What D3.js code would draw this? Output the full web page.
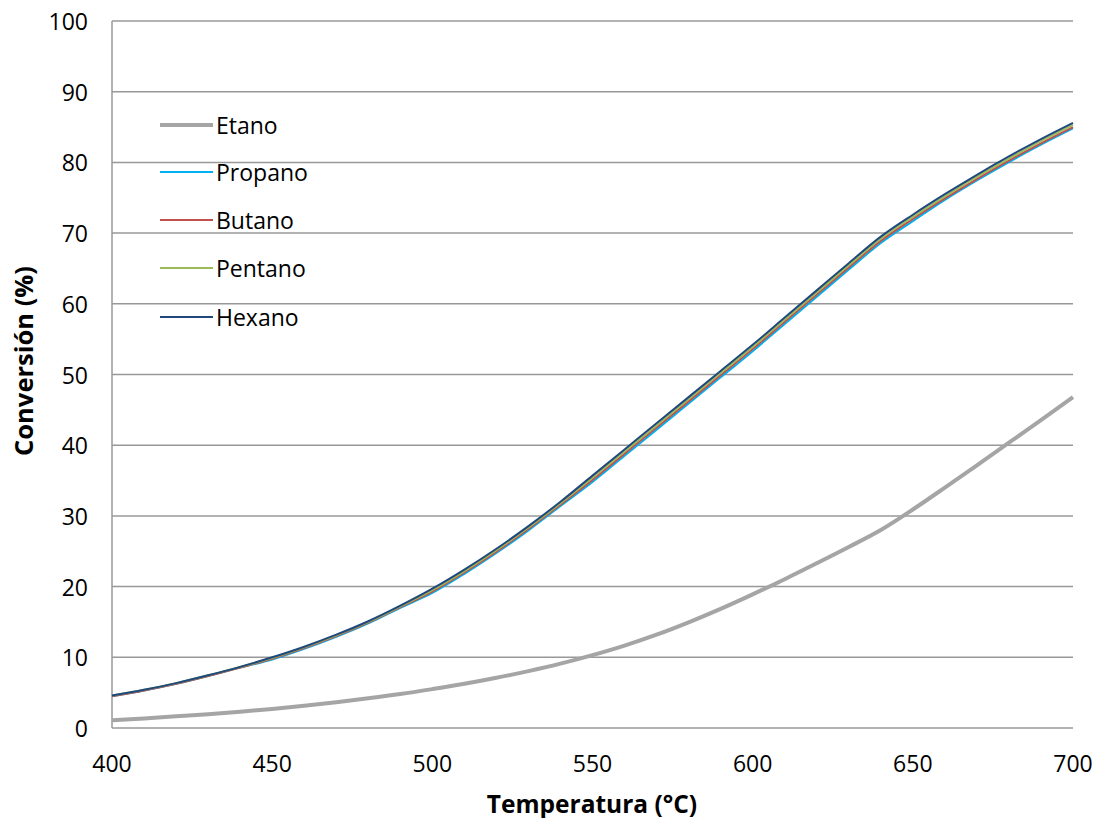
<!DOCTYPE html>
<html>
<head>
<meta charset="utf-8">
<script src="https://cdn.jsdelivr.net/npm/d3@7/dist/d3.min.js"></script>
<style>
  html, body { margin: 0; padding: 0; background: #fff; }
  svg { display: block; }
  text { font-family: "Open Sans", "Liberation Sans", sans-serif; fill: #000; }
</style>
</head>
<body>
<svg id="chart" width="1096" height="818"></svg>
<script>
// Temperature (°C) at which conversion was evaluated
const temperatures = [400, 410, 420, 430, 440, 450, 460, 470, 480, 490, 500,
  510, 520, 530, 540, 550, 560, 570, 580, 590, 600,
  610, 620, 630, 640, 650, 660, 670, 680, 690, 700];

// Conversion (%) for each alkane
const etano = [1.1, 1.35, 1.65, 1.95, 2.3, 2.7, 3.15, 3.65, 4.2, 4.8, 5.5,
  6.25, 7.1, 8.05, 9.1, 10.3, 11.65, 13.2, 14.95, 16.85, 18.9,
  21.05, 23.3, 25.6, 28.0, 30.9, 34.0, 37.15, 40.35, 43.55, 46.8];
const propano = [4.5, 5.3, 6.25, 7.35, 8.55, 9.7, 11.2, 12.9, 14.8, 17.0, 19.1,
  21.8, 24.75, 27.95, 31.4, 34.8, 38.5, 42.2, 45.9, 49.6, 53.3,
  57.15, 61.0, 64.85, 68.6, 71.7, 74.7, 77.45, 80.05, 82.5, 84.8];
const butano = [4.5, 5.3, 6.25, 7.35, 8.55, 9.8, 11.3, 13.0, 14.9, 17.1, 19.3,
  22.0, 24.95, 28.15, 31.6, 35.1, 38.8, 42.5, 46.2, 49.9, 53.6,
  57.45, 61.3, 65.15, 68.9, 72.0, 74.9, 77.65, 80.25, 82.7, 85.0];
const pentano = [4.6, 5.4, 6.35, 7.45, 8.65, 9.9, 11.4, 13.1, 15.0, 17.2, 19.5,
  22.2, 25.15, 28.35, 31.8, 35.4, 39.1, 42.8, 46.5, 50.2, 53.9,
  57.75, 61.6, 65.45, 69.2, 72.3, 75.2, 77.95, 80.55, 83.0, 85.3];
const hexano = [4.6, 5.4, 6.35, 7.45, 8.65, 10.0, 11.5, 13.2, 15.1, 17.3, 19.7,
  22.4, 25.35, 28.55, 32.0, 35.7, 39.4, 43.1, 46.8, 50.5, 54.2,
  58.05, 61.9, 65.75, 69.5, 72.6, 75.5, 78.25, 80.85, 83.3, 85.6];

const seriesNames = ["Etano", "Propano", "Butano", "Pentano", "Hexano"];
const seriesValues = [etano, propano, butano, pentano, hexano];
const seriesColors = ["#a5a5a5", "#00b0f0", "#c0504d", "#9bbb59", "#1f497d"];
const seriesWidths = [4, 2, 2, 2, 2];

const xTicks = [400, 450, 500, 550, 600, 650, 700];
const yTicks = [0, 10, 20, 30, 40, 50, 60, 70, 80, 90, 100];

const svg = d3.select("#chart");
const plotLeft = 112, plotRight = 1073, plotTop = 21, plotBottom = 728;

const x = d3.scaleLinear().domain([400, 700]).range([plotLeft, plotRight]);
const y = d3.scaleLinear().domain([0, 100]).range([plotBottom, plotTop]);

// horizontal gridlines
svg.append("g")
  .selectAll("line")
  .data(yTicks)
  .join("line")
  .attr("x1", plotLeft).attr("x2", plotRight)
  .attr("y1", d => y(d)).attr("y2", d => y(d))
  .attr("stroke", "#989898").attr("stroke-width", 1.5);

// left axis line
svg.append("line")
  .attr("x1", plotLeft).attr("x2", plotLeft)
  .attr("y1", plotTop).attr("y2", plotBottom)
  .attr("stroke", "#989898").attr("stroke-width", 1.5);

// y tick labels
svg.append("g")
  .selectAll("text")
  .data(yTicks)
  .join("text")
  .attr("x", 88).attr("y", d => y(d))
  .attr("text-anchor", "end")
  .attr("dominant-baseline", "central")
  .style("font-size", "23px")
  .text(d => d);

// x tick labels
svg.append("g")
  .selectAll("text")
  .data(xTicks)
  .join("text")
  .attr("x", d => x(d)).attr("y", 763)
  .attr("text-anchor", "middle")
  .attr("dominant-baseline", "central")
  .style("font-size", "23px")
  .text(d => d);

// axis titles
svg.append("text")
  .attr("x", 592).attr("y", 803)
  .attr("text-anchor", "middle")
  .attr("dominant-baseline", "central")
  .style("font-size", "24.5px").style("font-weight", "bold")
  .text("Temperatura (°C)");

svg.append("text")
  .attr("transform", "translate(23, 361) rotate(-90)")
  .attr("text-anchor", "middle")
  .attr("dominant-baseline", "central")
  .style("font-size", "25.5px").style("font-weight", "bold")
  .text("Conversión (%)");

// series lines
const line = d3.line()
  .x((d, i) => x(temperatures[i]))
  .y(d => y(d))
  .curve(d3.curveMonotoneX);

svg.append("g")
  .selectAll("path")
  .data(seriesValues)
  .join("path")
  .attr("d", d => line(d))
  .attr("fill", "none")
  .attr("stroke", (d, i) => seriesColors[i])
  .attr("stroke-width", (d, i) => seriesWidths[i])
  .attr("stroke-linejoin", "round");

// legend
const legendY = [125, 172, 220, 268, 317];
const legend = svg.append("g")
  .selectAll("g")
  .data(seriesNames)
  .join("g")
  .attr("transform", (d, i) => `translate(160, ${legendY[i]})`);

legend.append("line")
  .attr("x1", 0).attr("x2", 53)
  .attr("y1", 0).attr("y2", 0)
  .attr("stroke", (d, i) => seriesColors[i])
  .attr("stroke-width", (d, i) => seriesWidths[i]);

legend.append("text")
  .attr("x", 56).attr("y", 0)
  .attr("dominant-baseline", "central")
  .style("font-size", "23px")
  .text(d => d);
</script>
</body>
</html>
